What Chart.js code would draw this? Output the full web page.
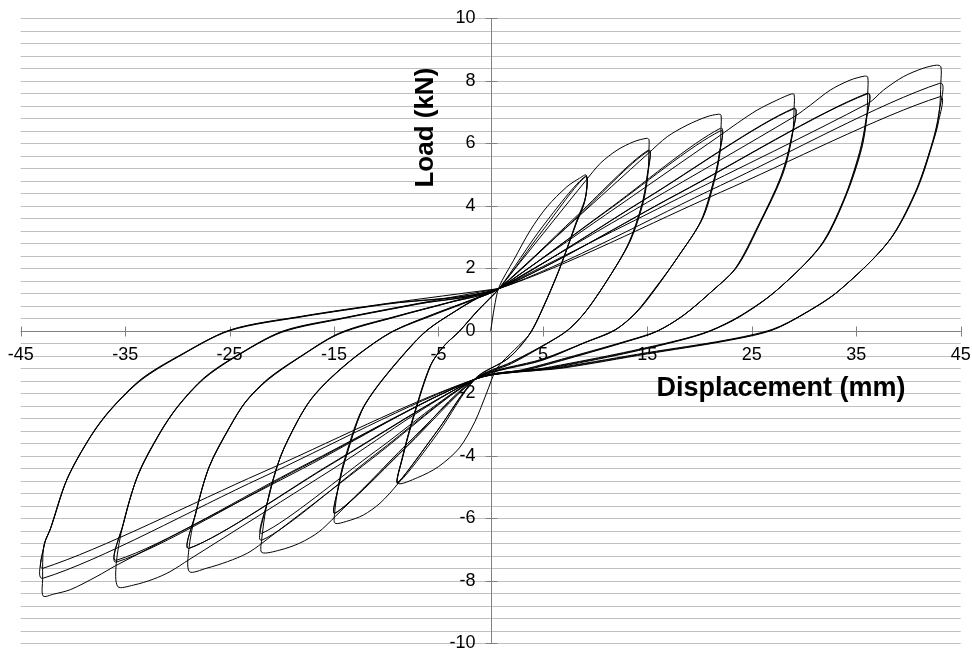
<!DOCTYPE html>
<html>
<head>
<meta charset="utf-8">
<script src="https://cdn.jsdelivr.net/npm/chart.js"></script>
<style>
  html, body { margin: 0; padding: 0; background: #fff; }
  #box { width: 972px; height: 652px; }
</style>
</head>
<body>
<div id="box"><canvas id="myChart" width="972" height="652"></canvas></div>
<script>
// tick labels
const xTicks = [-45, -35, -25, -15, -5, 5, 15, 25, 35, 45];
const yTicks = [-10, -8, -6, -4, -2, 0, 2, 4, 6, 8, 10];

// load / displacement path, one array per amplitude level (3 cycles each)
const level1 = [
  [0, 0], [0.35, 0.75], [0.8, 1.4], [2.2, 2.26], [3.8, 3.22], [5.4, 3.97], [7.3, 4.61], [8.5, 4.88], [9.14, 4.98],
  [9.1, 4.3], [8.25, 3.54], [6.65, 2.04], [5.05, 0.77], [3.8, -0.08], [2.3, -0.6], [0.6, -1.2],
  [-0.4, -2.0], [-1.5, -2.9], [-3.0, -3.75], [-5.0, -4.35], [-7.0, -4.7], [-8.9, -4.88],
  [-8.5, -4.14], [-7.4, -2.74], [-5.8, -1.13], [-4.5, -0.5], [-3.1, -0.05], [-1.2, 0.65], [0.8, 1.35],
  [5, 3.35], [9.1, 4.95],
  [9.05, 4.2], [8.2, 3.45], [6.6, 1.98], [5.0, 0.72], [3.7, -0.12], [1.8, -0.85], [-1.5, -1.55],
  [-5, -3.25], [-8.9, -4.88],
  [-8.5, -4.1], [-7.35, -2.7], [-5.75, -1.1], [-4.45, -0.48], [-3.05, -0.03], [-1.2, 0.67], [0.9, 1.38],
  [5, 3.22], [9.1, 4.93],
  [9.0, 4.15], [8.15, 3.4], [6.55, 1.95], [4.95, 0.7], [3.65, -0.14], [1.7, -0.88], [-1.4, -1.5],
  [-5, -3.15], [-8.9, -4.85],
  [-8.45, -4.08], [-7.3, -2.68], [-5.7, -1.08], [-4.4, -0.46], [-3.0, -0.02], [-1.2, 0.66], [0.8, 1.35]
];
const level2 = [
  [0.8, 1.35], [5, 3.1], [9.14, 4.82], [10.5, 5.36], [12.1, 5.78], [13.7, 6.05], [14.95, 6.16], [15.15, 6.12], [15.15, 5.8],
  [15.05, 5.0], [14.6, 4.1], [13.4, 2.9], [11.7, 1.9], [9.3, 0.7], [7.5, 0.05], [5.4, -0.4], [2, -1.0], [-1.5, -1.55],
  [-5, -3.15], [-8.9, -4.9], [-10.6, -5.52], [-12.2, -5.9], [-13.8, -6.1], [-14.9, -6.16], [-14.95, -5.85],
  [-14.6, -5.0], [-14.1, -4.24], [-12.5, -2.64], [-10.9, -1.79], [-8.0, -0.62], [-6.1, 0.02], [-3.5, 0.6], [-1.2, 1.05], [0.8, 1.35],
  [8, 3.6], [15.1, 5.78],
  [15.0, 4.95], [14.5, 4.05], [13.3, 2.85], [11.6, 1.85], [9.2, 0.66], [7.4, 0.02], [5.3, -0.42], [2, -1.02], [-1.5, -1.55],
  [-8, -3.7], [-14.9, -5.84],
  [-14.55, -4.95], [-14.0, -4.2], [-12.4, -2.6], [-10.8, -1.76], [-7.9, -0.6], [-6.0, 0.04], [-3.4, 0.62], [-1.2, 1.06], [0.8, 1.35],
  [8, 3.55], [15.1, 5.75],
  [14.95, 4.9], [14.45, 4.0], [13.2, 2.8], [11.5, 1.8], [9.1, 0.62], [7.3, 0.0], [5.2, -0.45], [2, -1.05], [-1.5, -1.55],
  [-8, -3.62], [-14.9, -5.84],
  [-14.5, -4.9], [-13.95, -4.15], [-12.35, -2.57], [-10.75, -1.74], [-7.85, -0.58], [-5.95, 0.05], [-3.4, 0.63], [-1.2, 1.07], [0.8, 1.35]
];
const level3 = [
  [0.8, 1.35], [8, 3.53], [15.1, 5.68], [16.9, 6.21], [18.8, 6.58], [20.7, 6.85], [21.8, 6.93], [22.05, 6.9], [22.05, 6.5],
  [21.95, 5.7], [21.5, 4.9], [20.3, 3.6], [18.0, 2.4], [15.8, 1.35], [14.0, 0.6], [12.0, 0.05], [9.2, -0.35], [5, -0.9], [-1.5, -1.55],
  [-8, -3.68], [-14.9, -5.95], [-16.5, -6.45], [-18.3, -6.8], [-20.2, -7.02], [-21.9, -7.1], [-21.95, -6.75],
  [-21.4, -5.5], [-20.2, -4.1], [-18.5, -2.9], [-17.2, -2.2], [-15.4, -1.55], [-12.8, -0.8], [-9.5, -0.05], [-5.5, 0.5], [-2, 0.95], [0.8, 1.35],
  [11, 3.82], [22.0, 6.48],
  [21.9, 5.65], [21.4, 4.85], [20.2, 3.55], [17.9, 2.35], [15.7, 1.32], [13.9, 0.57], [11.9, 0.02], [9.1, -0.37], [5, -0.92], [-1.5, -1.55],
  [-11, -3.95], [-21.9, -6.7],
  [-21.35, -5.45], [-20.15, -4.05], [-18.45, -2.86], [-17.15, -2.17], [-15.35, -1.52], [-12.75, -0.78], [-9.45, -0.03], [-5.5, 0.52], [-2, 0.96], [0.8, 1.35],
  [11, 3.8], [22.0, 6.4],
  [21.85, 5.6], [21.35, 4.8], [20.1, 3.5], [17.8, 2.3], [15.6, 1.3], [13.8, 0.55], [11.8, 0.0], [9.0, -0.38], [5, -0.94], [-1.5, -1.55],
  [-11, -3.85], [-21.9, -6.48],
  [-21.3, -5.4], [-20.1, -4.0], [-18.4, -2.83], [-17.1, -2.14], [-15.3, -1.5], [-12.7, -0.76], [-9.4, -0.02], [-5.5, 0.53], [-2, 0.97], [0.8, 1.35]
];
const level4 = [
  [0.8, 1.35], [11, 3.71], [22.0, 6.26], [23.6, 6.64], [25.5, 7.06], [27.4, 7.38], [28.8, 7.58], [29.05, 7.56], [29.05, 7.15],
  [28.9, 6.3], [28.0, 5.04], [25.8, 3.44], [23.6, 2.05], [21.3, 1.3], [18.5, 0.5], [16, 0.0], [13.3, -0.3], [8, -0.8], [3, -1.25], [-1.5, -1.55],
  [-11, -4.0], [-21.9, -6.8], [-23.3, -7.12], [-25.2, -7.39], [-27.2, -7.6], [-28.85, -7.71], [-28.9, -7.0],
  [-28.3, -5.9], [-27.0, -4.4], [-25.0, -3.1], [-23.5, -2.3], [-21.4, -1.59], [-18.5, -0.9], [-14.5, -0.1], [-9, 0.45], [-4, 0.9], [0.8, 1.35],
  [15, 4.26], [29.0, 7.12],
  [28.85, 6.25], [27.9, 5.0], [25.7, 3.4], [23.5, 2.02], [21.2, 1.27], [18.4, 0.48], [15.9, -0.02], [13.2, -0.32], [8, -0.82], [3, -1.27], [-1.5, -1.55],
  [-15, -4.22], [-28.85, -6.96],
  [-28.25, -5.85], [-26.95, -4.35], [-24.95, -3.06], [-23.45, -2.27], [-21.35, -1.56], [-18.45, -0.88], [-14.45, -0.08], [-9, 0.46], [-4, 0.9], [0.8, 1.35],
  [15, 4.25], [29.0, 7.1],
  [28.8, 6.2], [27.8, 4.95], [25.6, 3.36], [23.4, 1.99], [21.1, 1.24], [18.3, 0.46], [15.8, -0.04], [13.1, -0.34], [8, -0.84], [3, -1.29], [-1.5, -1.55],
  [-15, -4.2], [-28.85, -6.96],
  [-28.2, -5.8], [-26.9, -4.3], [-24.9, -3.02], [-23.4, -2.24], [-21.3, -1.53], [-18.4, -0.86], [-14.4, -0.06], [-9, 0.47], [-4, 0.91], [0.8, 1.35]
];
const level5 = [
  [0.8, 1.35], [15, 4.11], [29.05, 6.85], [30.6, 7.22], [32.5, 7.7], [34.4, 8.02], [35.8, 8.15], [36.1, 8.12], [36.1, 7.62],
  [36.0, 6.8], [35.5, 5.8], [34.0, 4.3], [31.7, 2.75], [27.4, 1.3], [24, 0.5], [21, 0.0], [18, -0.3], [12, -0.75], [5, -1.2], [-1.5, -1.55],
  [-15, -4.4], [-28.9, -7.33], [-30.7, -7.71], [-32.3, -7.95], [-34.2, -8.14], [-35.7, -8.19], [-35.85, -7.45],
  [-35.2, -6.2], [-33.8, -4.65], [-31.7, -3.3], [-30.0, -2.45], [-27.5, -1.55], [-24.5, -0.85], [-20, -0.05], [-14, 0.4], [-7, 0.85], [0.8, 1.35],
  [18, 4.4], [36.05, 7.6],
  [35.95, 6.75], [35.4, 5.75], [33.9, 4.25], [31.6, 2.72], [27.3, 1.27], [23.9, 0.47], [20.9, -0.02], [17.9, -0.32], [12, -0.77], [5, -1.22], [-1.5, -1.55],
  [-18, -4.36], [-35.8, -7.4],
  [-35.15, -6.15], [-33.75, -4.6], [-31.65, -3.26], [-29.95, -2.42], [-27.45, -1.52], [-24.45, -0.83], [-19.95, -0.03], [-14, 0.41], [-7, 0.86], [0.8, 1.35],
  [18, 4.39], [36.05, 7.58],
  [35.9, 6.7], [35.3, 5.7], [33.8, 4.2], [31.5, 2.69], [27.2, 1.24], [23.8, 0.44], [20.8, -0.04], [17.8, -0.34], [12, -0.79], [5, -1.24], [-1.5, -1.55],
  [-18, -4.33], [-35.8, -7.34],
  [-35.1, -6.1], [-33.7, -4.55], [-31.6, -3.22], [-29.9, -2.39], [-27.4, -1.49], [-24.4, -0.81], [-19.9, -0.01], [-14, 0.42], [-7, 0.87], [0.8, 1.35]
];
const level6 = [
  [0.8, 1.35], [18, 4.24], [36.15, 7.28], [37.6, 7.7], [39.5, 8.13], [41.4, 8.4], [42.7, 8.5], [43.1, 8.45], [43.1, 7.95],
  [42.95, 7.0], [42.4, 6.1], [40.8, 4.5], [38.2, 2.9], [33.4, 1.3], [30, 0.55], [27, 0.05], [22.5, -0.3], [15, -0.7], [7, -1.15], [-1.5, -1.55],
  [-18, -4.41], [-35.8, -7.5], [-37.7, -7.86], [-40.2, -8.28], [-41.85, -8.43], [-42.85, -8.49], [-42.9, -7.95],
  [-42.8, -6.9], [-42.2, -6.38], [-40.6, -4.78], [-38.3, -3.39], [-36.4, -2.54], [-33.5, -1.59], [-30, -0.85], [-25, 0.0], [-18, 0.45], [-10, 0.85], [0.8, 1.35],
  [22, 4.65], [43.0, 7.92],
  [42.9, 6.95], [42.3, 6.05], [40.7, 4.45], [38.1, 2.86], [33.3, 1.27], [29.9, 0.52], [26.9, 0.02], [22.4, -0.32], [15, -0.72], [7, -1.17], [-1.5, -1.55],
  [-22, -4.71], [-42.85, -7.92],
  [-42.75, -6.85], [-42.15, -6.33], [-40.55, -4.74], [-38.25, -3.35], [-36.35, -2.51], [-33.45, -1.56], [-29.95, -0.83], [-24.95, 0.02], [-18, 0.46], [-10, 0.86], [0.8, 1.35],
  [22, 4.43], [43.0, 7.49],
  [42.85, 6.65], [42.2, 5.9], [40.6, 4.4], [38.0, 2.82], [33.2, 1.24], [29.8, 0.5], [26.8, 0.0], [22.3, -0.34], [15, -0.74], [7, -1.19], [-1.5, -1.55],
  [-22, -4.55], [-42.85, -7.6],
  [-42.7, -6.8], [-42.1, -6.3], [-40.5, -4.7], [-38.2, -3.32], [-36.3, -2.48], [-33.4, -1.53], [-29.9, -0.81], [-24.9, 0.03], [-18, 0.47], [-10, 0.87], [0.8, 1.35]
];

const levels = [level1, level2, level3, level4, level5, level6];

// light horizontal grid every 0.4 kN
const gridStep = 0.4;
const yGrid = [];
for (let v = -10; v <= 10.001; v += gridStep) {
  yGrid.push(Math.round(v * 10) / 10);
}

const tickFont = '18px "Liberation Sans", Arial, sans-serif';
const yTitleFont = 'bold 26px "Liberation Sans", Arial, sans-serif';
const xTitleFont = 'bold 27px "Liberation Sans", Arial, sans-serif';
const axisColor = '#808080';
const gridColor = '#c0c0c0';

// axes cross at (0,0): grid, axis lines, crossing ticks and labels drawn from the scales
const crossAxes = {
  id: 'crossAxes',
  beforeDatasetsDraw(chart) {
    const { ctx, chartArea: area, scales: { x, y } } = chart;
    const ax = Math.round(x.getPixelForValue(0)) + 0.5;
    const ay = Math.round(y.getPixelForValue(0)) + 0.5;
    ctx.save();
    ctx.lineWidth = 1;

    // horizontal grid
    ctx.strokeStyle = gridColor;
    ctx.beginPath();
    yGrid.forEach(v => {
      const py = Math.round(y.getPixelForValue(v)) + 0.5;
      ctx.moveTo(area.left, py);
      ctx.lineTo(area.right, py);
    });
    ctx.stroke();

    // axis lines + tick marks
    ctx.strokeStyle = axisColor;
    ctx.beginPath();
    ctx.moveTo(area.left, ay);
    ctx.lineTo(area.right, ay);
    ctx.moveTo(ax, area.top);
    ctx.lineTo(ax, area.bottom);
    xTicks.forEach(v => {
      const px = Math.round(x.getPixelForValue(v)) + 0.5;
      ctx.moveTo(px, ay - 5);
      ctx.lineTo(px, ay + 5);
    });
    yTicks.forEach(v => {
      const py = Math.round(y.getPixelForValue(v)) + 0.5;
      ctx.moveTo(ax - 6, py);
      ctx.lineTo(ax + 6, py);
    });
    ctx.stroke();

    // tick labels
    ctx.fillStyle = '#000';
    ctx.font = tickFont;
    ctx.textBaseline = 'middle';
    ctx.textAlign = 'center';
    xTicks.forEach(v => {
      ctx.fillText(String(v), x.getPixelForValue(v), ay + 23.5);
    });
    ctx.textAlign = 'right';
    yTicks.forEach(v => {
      ctx.fillText(String(v), ax - 16, y.getPixelForValue(v));
    });
    ctx.restore();
  },
  afterDraw(chart) {
    const { ctx, scales: { x, y } } = chart;
    ctx.save();
    ctx.fillStyle = '#000';
    ctx.font = yTitleFont;
    ctx.textAlign = 'center';
    ctx.textBaseline = 'alphabetic';
    // "Load (kN)" rotated, left of the y axis
    ctx.translate(x.getPixelForValue(-5.5), y.getPixelForValue(6.5));
    ctx.rotate(-Math.PI / 2);
    ctx.fillText('Load (kN)', 0, 0);
    ctx.restore();
    ctx.save();
    ctx.fillStyle = '#000';
    ctx.font = xTitleFont;
    ctx.textAlign = 'center';
    ctx.textBaseline = 'alphabetic';
    ctx.fillText('Displacement (mm)', x.getPixelForValue(27.8), y.getPixelForValue(-2.09));
    ctx.restore();
  }
};

const ctx = document.getElementById('myChart').getContext('2d');
const myChart = new Chart(ctx, {
  type: 'scatter',
  data: {
    datasets: levels.map((pts, i) => ({
      label: 'level ' + (i + 1),
      data: pts.map(p => ({ x: p[0], y: p[1] })),
      showLine: true,
      borderColor: '#000',
      borderWidth: 1,
      pointRadius: 0,
      tension: 0.3,
      fill: false
    }))
  },
  options: {
    responsive: false,
    animation: false,
    events: [],
    layout: { padding: { left: 20.7, right: 11.3, top: 18.3, bottom: 8.8 } },
    plugins: {
      legend: { display: false },
      tooltip: { enabled: false }
    },
    scales: {
      x: { type: 'linear', min: -45, max: 45, display: false },
      y: { type: 'linear', min: -10, max: 10, display: false }
    }
  },
  plugins: [crossAxes]
});
</script>
</body>
</html>
